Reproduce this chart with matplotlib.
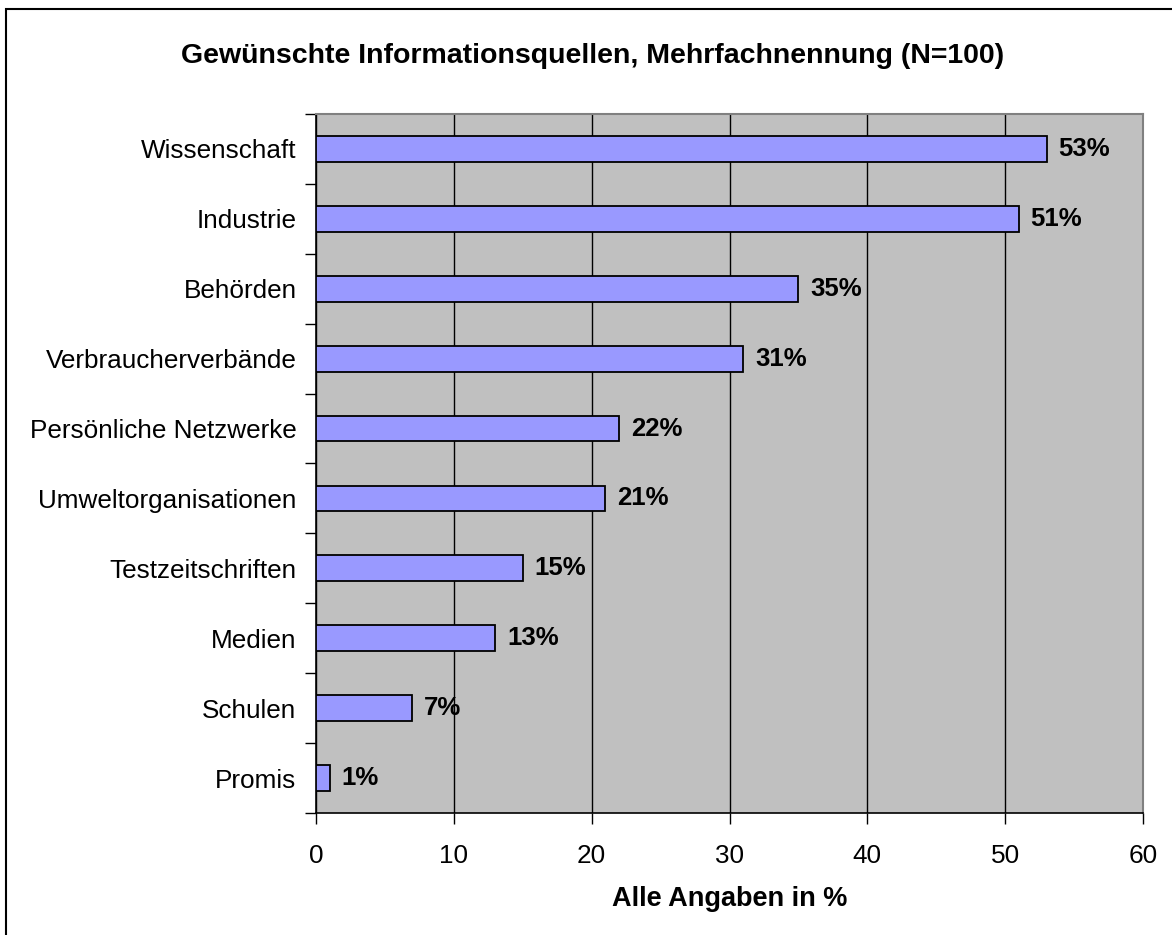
import numpy as np
import matplotlib
matplotlib.use('Agg')
import matplotlib.pyplot as plt
from matplotlib.patches import Rectangle
from matplotlib.ticker import FixedLocator

plt.rcParams['font.family'] = ['Liberation Sans', 'DejaVu Sans']

# ── data ─────────────────────────────────────────────────────────────────────
categories = ['Wissenschaft', 'Industrie', 'Behörden', 'Verbraucherverbände',
              'Persönliche Netzwerke', 'Umweltorganisationen',
              'Testzeitschriften', 'Medien', 'Schulen', 'Promis']
values = [53, 51, 35, 31, 22, 21, 15, 13, 7, 1]
xticks = [0, 10, 20, 30, 40, 50, 60]

# ── figure ───────────────────────────────────────────────────────────────────
fig = plt.figure(figsize=(11.72, 9.35), dpi=100)
ax = fig.add_axes([316 / 1172, 1 - 813 / 935, (1143 - 316) / 1172, (813 - 114) / 935])
ax.set_facecolor('#C0C0C0')

n = len(categories)
ypos = np.arange(n)[::-1]
ax.barh(ypos, values, height=0.37, color='#9999FF', edgecolor='black',
        linewidth=1.3, zorder=3)

for y, v in zip(ypos, values):
    ax.text(v + 0.85, y, f'{v}%', va='center', ha='left',
            fontsize=18.5, fontweight='bold', zorder=4)

ax.set_xlim(0, 60)
ax.set_ylim(-0.5, n - 0.5)
ax.set_xticks(xticks)
ax.xaxis.grid(True, color='black', lw=1.0, zorder=1)
ax.set_axisbelow(True)

ax.set_yticks(ypos)
ax.set_yticklabels(categories)
ax.yaxis.set_minor_locator(FixedLocator(np.arange(n + 1) - 0.5))
ax.tick_params(axis='y', which='major', length=0, pad=14, labelsize=18.8)
ax.tick_params(axis='y', which='minor', length=8, width=1.0, direction='out')
ax.tick_params(axis='x', which='major', length=8, width=1.0, pad=14,
               labelsize=18.8)

for side in ('left', 'bottom'):
    ax.spines[side].set_color('black')
    ax.spines[side].set_linewidth(1.2)
for side in ('top', 'right'):
    ax.spines[side].set_color('#808080')
    ax.spines[side].set_linewidth(1.5)

ax.set_xlabel('Alle Angaben in %', fontsize=19.5, fontweight='bold',
              labelpad=13)

fig.text(593 / 1172, 1 - 56 / 935,
         'Gewünschte Informationsquellen, Mehrfachnennung (N=100)',
         ha='center', va='center', fontsize=20.5, fontweight='bold')

# outer chart border (only left and top edges visible)
fig.patches.append(Rectangle((6 / 1172, -0.1), 1.2, 1 - 9 / 935 + 0.1,
                             transform=fig.transFigure, fill=False,
                             edgecolor='black', linewidth=1.5))

fig.savefig('out.png', dpi=100, facecolor='white')
